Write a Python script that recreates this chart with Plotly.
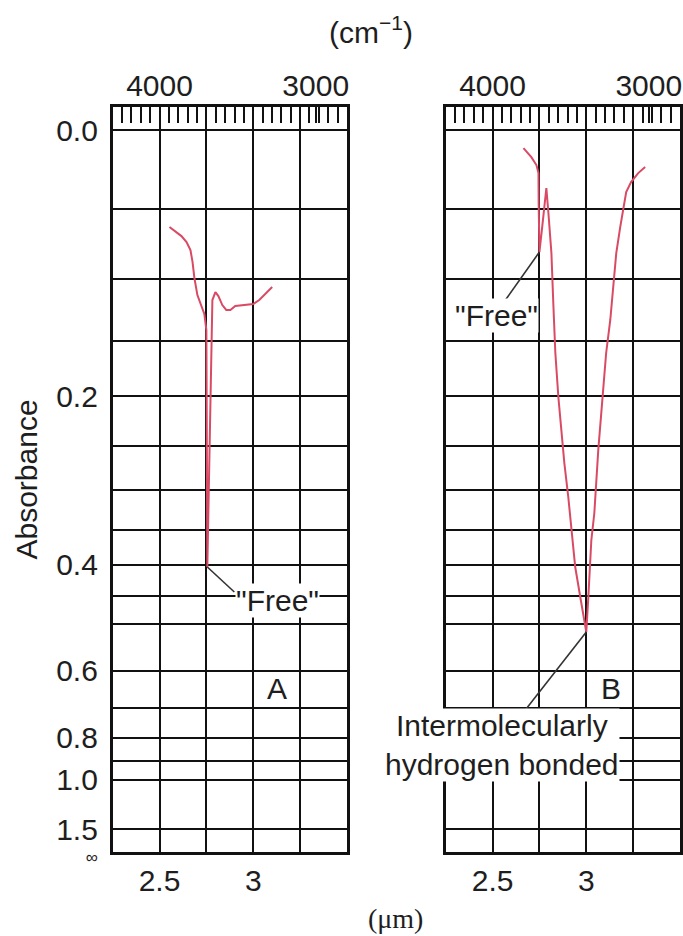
import numpy as np
import plotly.graph_objects as go

# ---------------- data ----------------
# Spectrum A (dilute solution): wavelength (um) and absorbance
wl_a = [2.553, 2.585, 2.617, 2.644, 2.665, 2.676, 2.686, 2.702, 2.723, 2.739, 2.750,
        2.755, 2.782, 2.798, 2.814, 2.835, 2.856, 2.878, 2.904, 2.952, 3.000, 3.032,
        3.064, 3.101]
abs_a = [0.0626, 0.0655, 0.0690, 0.0732, 0.0789, 0.0876, 0.0996, 0.1127, 0.1221, 0.1277,
         0.1409, 0.4037, 0.1166, 0.1104, 0.1135, 0.1206, 0.1245, 0.1245, 0.1213, 0.1206,
         0.1198, 0.1166, 0.1119, 0.1065]

# Spectrum B (concentrated solution)
wl_b = [2.665, 2.707, 2.734, 2.745, 2.746, 2.748, 2.750, 2.766, 2.787, 2.798, 2.814,
        2.824, 2.835, 2.851, 2.867, 2.883, 2.904, 2.920, 2.941, 2.968, 2.989, 3.000,
        3.011, 3.021, 3.027, 3.043, 3.053, 3.064, 3.080, 3.096, 3.106, 3.128, 3.144,
        3.160, 3.181, 3.197, 3.213, 3.239, 3.277, 3.314]
abs_b = [0.0110, 0.0166, 0.0216, 0.0267, 0.0463, 0.0648, 0.0804, 0.0613, 0.0364, 0.0530,
         0.0811, 0.1190, 0.1604, 0.2005, 0.2332, 0.2686, 0.3083, 0.3507, 0.4037, 0.4520,
         0.4987, 0.5161, 0.4520, 0.4037, 0.3644, 0.3283, 0.2880, 0.2543, 0.2161, 0.1819,
         0.1604, 0.1326, 0.1065, 0.0811, 0.0627, 0.0490, 0.0390, 0.0325, 0.0267, 0.0229]

# Axis ticks
grid_abs = [0.0, 0.05, 0.10, 0.15, 0.20, 0.25, 0.30, 0.35, 0.40, 0.45, 0.50,
            0.6, 0.7, 0.8, 0.9, 1.0, 1.5, np.inf]
grid_abs_text = ["0.0", "", "", "", "0.2", "", "", "", "0.4", "", "",
                 "0.6", "", "0.8", "", "1.0", "1.5",
                 "<span style='font-size:17px'>\u221e</span>"]
wl_grid = [2.25, 2.5, 2.75, 3.0, 3.25, 3.5]
wl_grid_text = ["", "2.5", "", "3", "", ""]
wn_labels = [4000, 3000]
scale_step_um = 0.05

# ---------------- helpers ----------------
def trans(a):
    return 10 ** (-np.asarray(a, dtype=float))

FONT = "Liberation Sans, Arial, sans-serif"
TXT = "#1e1e1e"
FS = 30
XR = [2.25, 3.5]
YR = [0.0, 1.0319]
LINE_COLOR = "#d94a64"

fig = go.Figure()
fig.add_trace(go.Scatter(x=wl_a, y=trans(abs_a), mode="lines",
                         line=dict(color=LINE_COLOR, width=2), xaxis="x", yaxis="y",
                         showlegend=False, hoverinfo="skip"))
fig.add_trace(go.Scatter(x=wl_b, y=trans(abs_b), mode="lines",
                         line=dict(color=LINE_COLOR, width=2), xaxis="x2", yaxis="y2",
                         showlegend=False, hoverinfo="skip"))

W, H = 683, 936
dom_a = [113 / W, 348 / W]
dom_b = [447 / W, 682 / W]

xcommon = dict(range=XR, tickmode="array", tickvals=wl_grid, ticktext=wl_grid_text,
               showgrid=True, gridcolor="#111", gridwidth=2, zeroline=False,
               showline=True, mirror=True, linecolor="#111", linewidth=2.5,
               ticks="", tickfont=dict(family=FONT, size=FS, color=TXT), fixedrange=True)
ycommon = dict(range=YR, tickmode="array", tickvals=trans(grid_abs).tolist(),
               showgrid=True, gridcolor="#111", gridwidth=2, zeroline=False,
               showline=True, mirror=True, linecolor="#111", linewidth=2.5,
               ticks="", tickfont=dict(family=FONT, size=FS, color=TXT), fixedrange=True)

# top wavenumber scale: fine ticks plus labelled wavenumbers
label_pos = [1e4 / wn for wn in wn_labels]
top_vals, top_text = [], []
for v in np.round(np.arange(XR[0], XR[1] + 1e-9, scale_step_um), 4):
    if all(abs(v - p) > 1e-6 for p in label_pos):
        top_vals.append(float(v))
        top_text.append("")
for wn, p in zip(wn_labels, label_pos):
    top_vals.append(p)
    top_text.append(str(wn))

topcommon = dict(range=XR, side="top", tickmode="array", tickvals=top_vals, ticktext=top_text,
                 ticks="inside", ticklen=16, tickwidth=2, tickcolor="#111",
                 showgrid=False, zeroline=False, showline=False, ticklabelstandoff=4,
                 tickfont=dict(family=FONT, size=FS, color=TXT), fixedrange=True)

fig.update_layout(
    width=W, height=H,
    margin=dict(l=0, r=0, t=107, b=84),
    paper_bgcolor="white", plot_bgcolor="white",
    xaxis=dict(domain=dom_a, anchor="y", **xcommon),
    yaxis=dict(domain=[0, 1], anchor="x", ticktext=grid_abs_text, showticklabels=True,
               ticklabelstandoff=6,
               title=dict(text="Absorbance", standoff=10,
                          font=dict(family=FONT, size=FS, color=TXT)),
               **ycommon),
    xaxis2=dict(domain=dom_b, anchor="y2", **xcommon),
    yaxis2=dict(domain=[0, 1], anchor="x2", showticklabels=False, **ycommon),
    xaxis3=dict(overlaying="x", anchor="y", **topcommon),
    xaxis4=dict(overlaying="x2", anchor="y2", **topcommon),
    showlegend=False,
)

# dummy traces so overlay axes render
fig.add_trace(go.Scatter(x=[None], y=[None], xaxis="x3", yaxis="y", showlegend=False))
fig.add_trace(go.Scatter(x=[None], y=[None], xaxis="x4", yaxis="y2", showlegend=False))

# ---------------- annotations ----------------
ia = int(np.argmax(abs_a))
ib = int(np.argmax(abs_b))
ib_free = 6  # sharp "free" dip in B

def connector(x, y, xref, yref, dx, dy):
    # line from the data point, offset in screen pixels (dy positive = downward)
    return dict(type="line", xref=xref, yref=yref, xsizemode="pixel", ysizemode="pixel",
                xanchor=x, yanchor=y, x0=0, y0=0, x1=dx, y1=-dy,
                line=dict(color="#333", width=1.6), layer="above")

shapes = [
    connector(wl_a[ia], float(trans(abs_a[ia])), "x", "y", 27, 25),
    connector(wl_b[ib_free], float(trans(abs_b[ib_free])), "x2", "y2", -34, 48),
    connector(wl_b[ib], float(trans(abs_b[ib])), "x2", "y2", -61, 78),
]

txtfont = dict(family=FONT, size=FS, color=TXT)
anns = [
    dict(x=3.128, y=0.349, xref="x", yref="y", text="\"Free\"", showarrow=False,
         bgcolor="white", font=txtfont, borderpad=0),
    dict(x=3.128, y=0.2258, xref="x", yref="y", text="A", showarrow=False, font=txtfont),
    dict(x=2.521, y=0.7438, xref="x2", yref="y2", text="\"Free\"", showarrow=False,
         bgcolor="white", font=txtfont, borderpad=0),
    dict(x=3.133, y=0.2271, xref="x2", yref="y2", text="B", showarrow=False, font=txtfont),
    dict(x=2.548, y=0.148, xref="x2", yref="y2",
         text="Intermolecularly<br>hydrogen bonded", showarrow=False,
         bgcolor="white", font=txtfont, borderpad=0),
    dict(x=372 / W, y=(852 - 30) / 745, xref="paper", yref="paper", yanchor="middle",
         text="(cm<sup>\u22121</sup>)", showarrow=False, font=txtfont),
    dict(x=397 / W, y=(852 - 918) / 745, xref="paper", yref="paper", yanchor="middle",
         text="(\u03bcm)", showarrow=False,
         font=dict(family="Liberation Serif, DejaVu Serif, serif", size=28, color=TXT)),
]
fig.update_layout(annotations=anns, shapes=shapes)

fig.write_html("out.html", config={"displayModeBar": False})
